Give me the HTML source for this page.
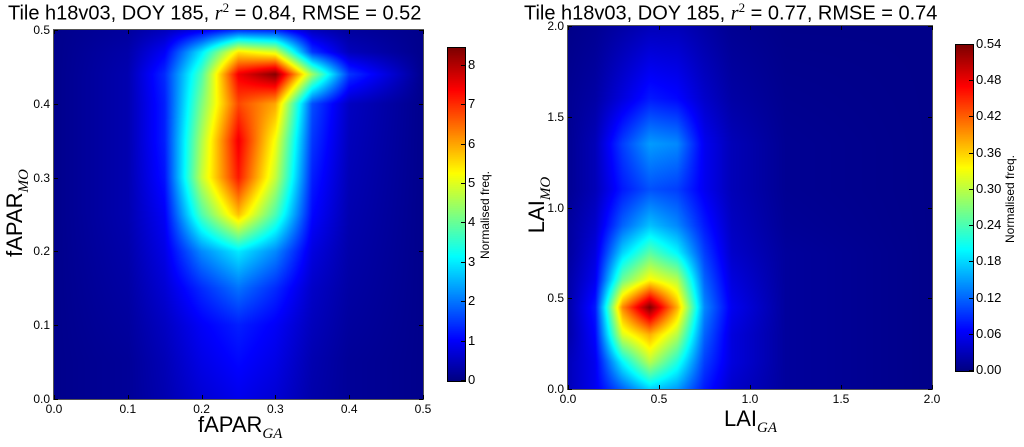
<!DOCTYPE html>
<html><head><meta charset="utf-8">
<style>
html,body{margin:0;padding:0;background:#fff;width:1024px;height:447px;overflow:hidden;font-family:"Liberation Sans",sans-serif;}
.abs{position:absolute;}
.title{font-size:20px;color:#000;white-space:nowrap;}
.alab{font-size:22px;color:#000;white-space:nowrap;}
.sub{font-family:"Liberation Serif",serif;font-style:italic;font-size:15px;position:relative;top:6px;}
canvas{position:absolute;}
</style></head><body>
<div id="root" style="position:relative;width:1024px;height:447px;">
<div class="abs title" style="left:8px;top:0px;">Tile h18v03, DOY 185, <span style="font-family:'Liberation Serif',serif;font-style:italic">r</span><sup style="font-family:'Liberation Serif',serif;font-size:13px">2</sup> = 0.84, RMSE = 0.52</div>
<div class="abs title" style="left:524px;top:0px;">Tile h18v03, DOY 185, <span style="font-family:'Liberation Serif',serif;font-style:italic">r</span><sup style="font-family:'Liberation Serif',serif;font-size:13px">2</sup> = 0.77, RMSE = 0.74</div>
<div class="abs alab" style="left:198px;top:412px;">fAPAR<span class="sub">GA</span></div>
<div class="abs alab" style="left:-40px;top:200px;transform:rotate(-90deg);transform-origin:center;width:110px;text-align:center;">fAPAR<span class="sub">MO</span></div>
<div class="abs alab" style="left:724px;top:406px;">LAI<span class="sub">GA</span></div>
<div class="abs alab" style="left:497px;top:192px;transform:rotate(-90deg);transform-origin:center;width:80px;text-align:center;">LAI<span class="sub">MO</span></div>
<div class="abs" style="left:425px;top:208px;font-size:12px;transform:rotate(-90deg);transform-origin:center;width:120px;text-align:center;">Normalised freq.</div>
<div class="abs" style="left:950px;top:192px;font-size:12px;transform:rotate(-90deg);transform-origin:center;width:120px;text-align:center;">Normalised freq.</div>
</div>
<script>
// ---- Left chart data (fAPAR) ----
const leftXNodes=[0,0.1,0.15,0.2,0.25,0.3,0.35,0.4,0.5];
const leftYNodes=[0,0.05,0.1,0.15,0.2,0.25,0.3,0.35,0.4,0.44,0.47,0.5];
const leftValues=[
[0.1,0.2,0.4,0.7,0.9,0.7,0.35,0.2,0.1],
[0.1,0.2,0.45,0.85,1.1,0.85,0.4,0.2,0.1],
[0.1,0.25,0.55,1.0,1.3,1.0,0.5,0.25,0.1],
[0.1,0.3,0.7,1.4,2.0,1.4,0.6,0.3,0.1],
[0.1,0.35,0.85,2.2,3.0,2.2,0.8,0.35,0.1],
[0.1,0.4,1.0,3.8,5.8,3.8,1.1,0.4,0.1],
[0.1,0.4,1.2,4.8,7.2,4.8,1.3,0.45,0.1],
[0.1,0.4,1.3,4.6,7.5,5.2,1.5,0.5,0.1],
[0.1,0.4,1.3,4.2,6.8,6.0,1.7,0.55,0.1],
[0.1,0.4,1.4,3.8,7.5,8.4,4.5,1.5,0.1],
[0.1,0.35,1.0,3.0,5.5,5.0,1.5,0.5,0.1],
[0.1,0.25,0.5,0.9,1.4,1.3,0.5,0.25,0.1]];
const leftTicks=["0.0","0.1","0.2","0.3","0.4","0.5"];
const leftCbTicks=["0","1","2","3","4","5","6","7","8"];
// ---- Right chart data (LAI) ----
const rightXNodes=[0,0.15,0.3,0.45,0.6,0.75,0.9,1.2,2.0];
const rightYNodes=[0,0.15,0.3,0.45,0.6,0.75,0.9,1.1,1.35,1.6,2.0];
const rightValues=[
[0.03,0.06,0.12,0.18,0.15,0.08,0.04,0.015,0.005],
[0.03,0.06,0.2,0.3,0.22,0.1,0.05,0.015,0.005],
[0.02,0.07,0.32,0.38,0.3,0.12,0.05,0.015,0.005],
[0.02,0.08,0.4,0.54,0.38,0.14,0.06,0.015,0.005],
[0.02,0.06,0.26,0.34,0.3,0.12,0.05,0.015,0.005],
[0.015,0.05,0.18,0.25,0.2,0.1,0.04,0.015,0.005],
[0.015,0.04,0.12,0.17,0.14,0.08,0.035,0.012,0.005],
[0.01,0.03,0.08,0.11,0.1,0.06,0.03,0.01,0.005],
[0.01,0.03,0.1,0.15,0.14,0.06,0.03,0.01,0.005],
[0.01,0.02,0.05,0.08,0.07,0.04,0.02,0.008,0.005],
[0.005,0.01,0.02,0.03,0.03,0.02,0.01,0.005,0.005]];
const rightTicks=["0.0","0.5","1.0","1.5","2.0"];
const rightCbTicks=["0.00","0.06","0.12","0.18","0.24","0.30","0.36","0.42","0.48","0.54"];

function jet(t){t=Math.max(0,Math.min(1,t));
 const c=x=>Math.max(0,Math.min(1,x));
 return [c(1.5-Math.abs(4*t-3))*255,c(1.5-Math.abs(4*t-2))*255,c(1.5-Math.abs(4*t-1))*255];}
function interp(xs,ys,vals,x,y){
 let i=0;while(i<xs.length-2&&x>xs[i+1])i++;
 let j=0;while(j<ys.length-2&&y>ys[j+1])j++;
 const tx=(x-xs[i])/(xs[i+1]-xs[i]),ty=(y-ys[j])/(ys[j+1]-ys[j]);
 const a=vals[j][i],b=vals[j][i+1],c=vals[j+1][i],d=vals[j+1][i+1];
 return (a*(1-tx)+b*tx)*(1-ty)+(c*(1-tx)+d*tx)*ty;}
const root=document.getElementById('root');
function el(tag,css,text){const e=document.createElement(tag);e.style.cssText=css;if(text!==undefined)e.textContent=text;root.appendChild(e);return e;}

function drawChart(o){
 const W=o.x1-o.x0,H=o.y1-o.y0;
 const cv=document.createElement('canvas');cv.width=W;cv.height=H;
 cv.style.left=o.x0+'px';cv.style.top=o.y0+'px';
 
 
 root.appendChild(cv);
 const ctx=cv.getContext('2d');const img=ctx.createImageData(W,H);
 for(let py=0;py<H;py++)for(let px=0;px<W;px++){
  const dx=o.max*(px+0.5)/W,dy=o.max*(1-(py+0.5)/H);
  const v=interp(o.xs,o.ys,o.vals,dx,dy);const col=jet(v/o.vmax);
  const k=(py*W+px)*4;img.data[k]=col[0];img.data[k+1]=col[1];img.data[k+2]=col[2];img.data[k+3]=255;}
 ctx.putImageData(img,0,0);
 const fr=el('div',`position:absolute;left:${o.x0-1}px;top:${o.y0-1}px;width:${W}px;height:${H}px;border:1px solid #555;`);
 
 
 const n=o.ticks.length;
 o.ticks.forEach((t,k)=>{
  const f=k/(n-1);const xp=o.x0+f*W,yp=o.y1-f*H;
  const xl=el('div',`position:absolute;left:${xp-15}px;top:${o.y1+3}px;width:30px;text-align:center;font-size:12px;`,t);
  
  
  const yl=el('div',`position:absolute;left:${o.x0-34}px;top:${yp-7}px;width:30px;text-align:right;font-size:12px;`,t);
  
  
  el('div',`position:absolute;left:${xp}px;top:${o.y1-4}px;width:1px;height:4px;background:#000;`);
  el('div',`position:absolute;left:${o.x0}px;top:${yp}px;width:4px;height:1px;background:#000;`);
  el('div',`position:absolute;left:${o.x1-4}px;top:${yp}px;width:4px;height:1px;background:#000;`);
  el('div',`position:absolute;left:${xp}px;top:${o.y0}px;width:1px;height:4px;background:#000;`);
 });
 const cb=document.createElement('canvas');const cw=o.cbx1-o.cbx0,ch=o.cby1-o.cby0;
 cb.width=cw;cb.height=ch;cb.style.left=o.cbx0+'px';cb.style.top=o.cby0+'px';cb.style.border='1px solid #000';
 
 
 root.appendChild(cb);const c2=cb.getContext('2d');
 for(let py=0;py<ch;py++){const col=jet(1-py/ch);c2.fillStyle=`rgb(${col[0]|0},${col[1]|0},${col[2]|0})`;c2.fillRect(0,py,cw,1);}
 o.cbTicks.forEach(t=>{const v=parseFloat(t);const yp=o.cby1-v/o.vmax*ch;
  el('div',`position:absolute;left:${o.cbx1-3}px;top:${yp}px;width:4px;height:1px;background:#000;`);
  const l=el('div',`position:absolute;left:${o.cbx1+4}px;top:${yp-8}px;font-size:13px;`,t);
  
  });
}
drawChart({name:'fapar',x0:54,x1:423,y0:30,y1:399,xs:leftXNodes,ys:leftYNodes,vals:leftValues,max:0.5,vmax:8.45,ticks:leftTicks,cbTicks:leftCbTicks,cbx0:447,cbx1:464,cby0:47,cby1:380});
drawChart({name:'lai',x0:568,x1:932,y0:26,y1:389,xs:rightXNodes,ys:rightYNodes,vals:rightValues,max:2.0,vmax:0.54,ticks:rightTicks,cbTicks:rightCbTicks,cbx0:955,cbx1:972,cby0:44,cby1:370});
</script>
</body></html>
